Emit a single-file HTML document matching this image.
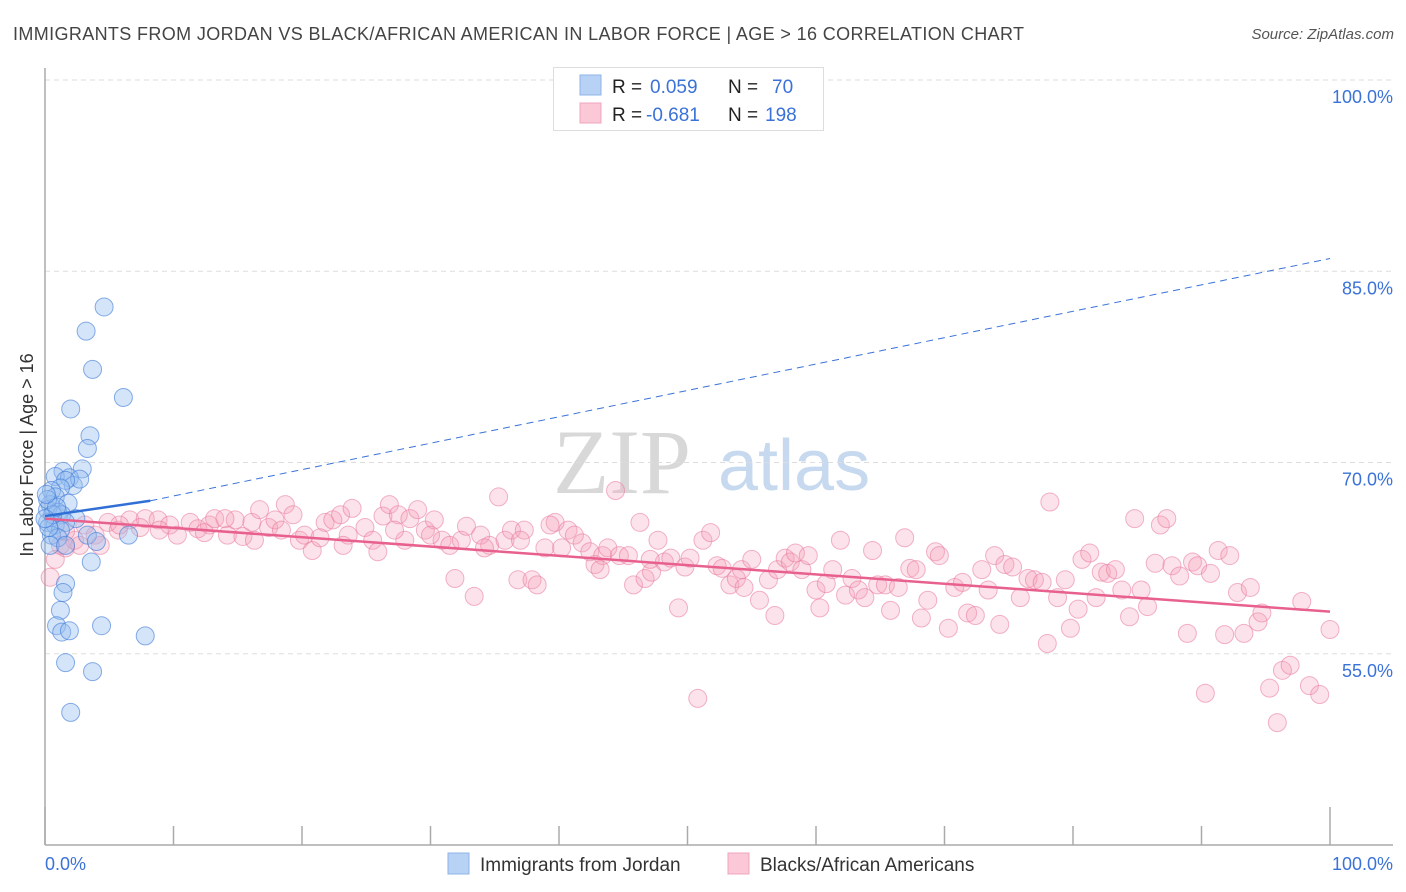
<!DOCTYPE html>
<html><head><meta charset="utf-8">
<style>
body{margin:0;background:#fff;font-family:"Liberation Sans",sans-serif;}
svg{display:block}
</style></head>
<body>
<svg id="chart" width="1406" height="892" xmlns="http://www.w3.org/2000/svg">
<text x="13" y="40" font-size="18" fill="#444" textLength="1011" lengthAdjust="spacing">IMMIGRANTS FROM JORDAN VS BLACK/AFRICAN AMERICAN IN LABOR FORCE | AGE &gt; 16 CORRELATION CHART</text>
<text x="1394" y="39" font-size="15" fill="#555" font-style="italic" text-anchor="end">Source: ZipAtlas.com</text>
<g>
<text x="553" y="493" font-family="Liberation Serif,serif" font-size="92" fill="#d8d8d8">ZIP</text>
<text x="718" y="490" font-size="72" fill="#c7d9ef">atlas</text>
</g>
<g id="grid"></g>
<g id="axes"></g>
<g id="pts"></g>
<g id="trends"></g>
<text transform="translate(33,455) rotate(-90)" font-size="18" fill="#333" text-anchor="middle">In Labor Force | Age &gt; 16</text>
<g>
<rect x="553.5" y="67.5" width="270" height="63" fill="#fff" stroke="#ddd"/>
<rect x="580" y="75" width="21" height="20" fill="#b7d2f5" stroke="#8fb4e8"/>
<rect x="580" y="103" width="21" height="20" fill="#fac8d7" stroke="#f0a5bd"/>
<text x="612" y="93" font-size="19" fill="#222">R = <tspan x="650" fill="#3a72d8">0.059</tspan><tspan x="728" fill="#222">N = </tspan><tspan x="772" fill="#3a72d8">70</tspan></text>
<text x="612" y="121" font-size="19" fill="#222">R = <tspan x="646" fill="#3a72d8">-0.681</tspan><tspan x="728" fill="#222">N = </tspan><tspan x="765" fill="#3a72d8">198</tspan></text>
</g>
<g>
<rect x="448" y="853" width="21" height="21" fill="#b7d2f5" stroke="#8fb4e8"/>
<text x="480" y="871" font-size="19" fill="#333">Immigrants from Jordan</text>
<rect x="728" y="853" width="21" height="21" fill="#fac8d7" stroke="#f0a5bd"/>
<text x="760" y="871" font-size="19" fill="#333">Blacks/African Americans</text>
</g>
</svg>
<script>
const yTicks=[100,85,70,55];
const yTickLabels=["100.0%","85.0%","70.0%","55.0%"];
const xTickLabels=["0.0%","100.0%"];
const blueX=[4.6,3.2,3.7,6.1,2.0,3.5,3.3,2.9,1.4,0.8,1.9,2.2,2.7,1.6,1.2,0.5,0.8,1.8,0.4,0.2,1.0,1.3,2.4,0.2,0.8,1.6,1.2,0.5,3.3,4.0,6.5,1.0,0.4,1.6,3.6,1.6,1.4,1.2,0.9,1.3,1.9,4.4,7.8,1.6,3.7,2.0,0.2,0.6,0.9,0.3,0.0,0.1];
const blueY=[82.2,80.3,77.3,75.1,74.2,72.1,71.1,69.5,69.3,68.9,68.8,68.2,68.7,68.6,68.0,67.8,67.3,66.8,66.7,66.3,66.1,65.9,65.6,65.3,65.1,65.3,64.7,64.3,64.3,63.8,64.3,64.1,63.5,63.5,62.2,60.5,59.8,58.4,57.2,56.7,56.8,57.2,56.4,54.3,53.6,50.4,67.1,65.9,66.5,64.9,65.6,67.5];
const pinkX=[0.4,0.8,1.2,1.6,2.3,3.1,3.9,4.9,5.7,6.6,7.8,8.8,9.7,10.3,11.3,11.9,12.8,13.2,14.2,14.8,15.4,16.1,16.7,17.4,17.9,18.7,19.3,19.8,20.2,20.8,21.8,22.4,23.0,23.6,23.9,24.9,25.5,25.9,26.3,26.8,27.5,28.0,28.4,29.0,29.6,30.3,30.9,31.5,31.9,32.4,32.8,33.4,33.9,34.6,35.3,35.8,36.3,36.8,37.3,37.9,38.3,38.9,39.7,40.2,40.7,41.2,41.8,42.4,42.8,43.4,43.8,44.4,44.7,45.4,45.8,46.3,46.7,47.2,47.7,48.2,48.7,49.3,49.8,50.2,50.8,51.2,51.8,52.3,52.7,53.3,53.8,54.2,54.4,55.0,55.6,56.3,56.8,57.0,57.6,58.0,58.4,58.9,59.4,60.0,60.3,60.8,61.3,61.9,62.3,62.8,63.3,63.8,64.4,64.8,65.4,65.8,66.4,66.9,67.3,67.8,68.2,68.7,69.3,69.6,70.3,70.8,71.4,71.8,72.4,72.9,73.4,73.9,74.3,74.7,75.3,75.9,76.5,77.0,77.6,78.0,78.2,78.8,79.4,79.8,80.4,80.7,81.3,81.8,82.2,82.7,83.3,83.8,84.4,84.8,85.3,85.8,86.4,86.8,87.3,87.7,88.3,88.9,89.3,89.7,90.3,90.7,91.3,91.8,92.2,92.8,93.3,93.8,94.4,94.7,95.3,95.9,96.3,96.9,97.8,98.4,99.2,100,1.6,2.7,4.3,5.8,7.4,8.9,12.4,14.0,16.3,18.4,21.4,23.2,27.2,30.0,34.2,37.0,39.3,43.2,47.1];
const pinkY=[61.0,62.4,63.5,63.3,63.9,65.1,64.3,65.3,64.7,65.5,65.6,65.5,65.1,64.3,65.3,64.8,65.1,65.6,64.3,65.5,64.2,65.3,66.3,64.9,65.5,66.7,65.9,63.9,64.3,63.1,65.3,65.5,65.9,64.3,66.4,64.9,63.9,63.0,65.8,66.7,65.9,63.9,65.6,66.3,64.7,65.5,63.9,63.5,60.9,63.9,65.0,59.5,64.3,63.5,67.3,63.9,64.7,60.8,64.7,60.8,60.4,63.3,65.3,63.3,64.7,64.3,63.7,63.0,62.0,62.7,63.3,67.8,62.7,62.7,60.4,65.3,60.9,61.4,63.9,62.2,62.5,58.6,61.8,62.5,51.5,63.9,64.5,61.9,61.7,60.4,60.9,61.6,60.2,62.4,59.2,60.8,58.0,61.6,62.5,62.2,62.9,61.6,62.7,60.0,58.6,60.5,61.6,63.9,59.6,60.9,60.0,59.4,63.1,60.4,60.4,58.4,60.2,64.1,61.7,61.6,57.8,59.2,63.0,62.7,57.0,60.2,60.6,58.2,58.0,61.6,60.0,62.7,57.3,62.0,61.8,59.4,60.9,60.8,60.6,55.8,66.9,59.4,60.8,57.0,58.5,62.4,62.9,59.4,61.4,61.3,61.6,60.0,57.9,65.6,60.0,58.7,62.1,65.1,65.6,61.9,61.1,56.6,62.2,61.9,51.9,61.3,63.1,56.5,62.7,59.8,56.6,60.2,57.5,58.2,52.3,49.6,53.7,54.1,59.1,52.5,51.8,56.9,64.6,63.5,63.5,65.1,64.9,64.7,64.5,65.6,63.9,64.7,64.1,63.5,64.7,64.3,63.3,63.9,65.1,61.6,62.4];
// trend lines
const blueTrendX=[0,8.2,100];
const blueTrendY=[65.8,67.0,86.0];
const pinkTrendX=[0,100];
const pinkTrendY=[65.6,58.3];

const NS="http://www.w3.org/2000/svg";
const X0=45,X1=1330,YTOP=80,PXPER=12.75;
function sx(v){return X0+(X1-X0)*v/100;}
function sy(v){return YTOP+(100-v)*PXPER;}
function mk(tag,attrs,parent){const e=document.createElementNS(NS,tag);for(const k in attrs)e.setAttribute(k,attrs[k]);parent.appendChild(e);return e;}

const grid=document.getElementById('grid');
yTicks.forEach((t,i)=>{
  const l=mk('line',{x1:X0,x2:1393,y1:sy(t),y2:sy(t),stroke:'#ddd','stroke-dasharray':'5,4'},grid);
  
  
  const tx=mk('text',{x:1393,y:sy(t)+23,'font-size':18,fill:'#3a72d8','text-anchor':'end'},grid);
  tx.textContent=yTickLabels[i];
  
  
});
const axes=document.getElementById('axes');
let a=mk('line',{x1:X0,x2:X0,y1:68,y2:845,stroke:'#aaa','stroke-width':1.5},axes);


a=mk('line',{x1:X0,x2:1393,y1:845,y2:845,stroke:'#aaa','stroke-width':1.5},axes);


for(let i=0;i<=10;i++){
  const x=sx(i*10);
  const t=mk('line',{x1:x,x2:x,y1:(i==0||i==10)?807:826,y2:845,stroke:'#aaa','stroke-width':1.5},axes);
  
  
}
[[0,'start',45],[1,'end',1393]].forEach(([i,anc,x])=>{
  const t=mk('text',{x:x,y:870,'font-size':18,fill:'#3a72d8','text-anchor':anc},axes);
  t.textContent=xTickLabels[i];
  
  
});
const pts=document.getElementById('pts');
pinkX.forEach((v,i)=>{
  const c=mk('circle',{cx:sx(v),cy:sy(pinkY[i]),r:9,fill:'rgba(245,160,185,0.3)',stroke:'rgba(232,120,155,0.55)','stroke-width':1},pts);
  
  
});
blueX.forEach((v,i)=>{
  const c=mk('circle',{cx:sx(v),cy:sy(blueY[i]),r:9,fill:'rgba(150,190,240,0.4)',stroke:'rgba(60,120,215,0.6)','stroke-width':1},pts);
  
  
});
const tr=document.getElementById('trends');
let l=mk('line',{x1:sx(blueTrendX[1]),y1:sy(blueTrendY[1]),x2:sx(blueTrendX[2]),y2:sy(blueTrendY[2]),stroke:'#3a72d8','stroke-width':1,'stroke-dasharray':'7,5'},tr);


l=mk('line',{x1:sx(blueTrendX[0]),y1:sy(blueTrendY[0]),x2:sx(blueTrendX[1]),y2:sy(blueTrendY[1]),stroke:'#2f6fd6','stroke-width':2.5},tr);


l=mk('line',{x1:sx(pinkTrendX[0]),y1:sy(pinkTrendY[0]),x2:sx(pinkTrendX[1]),y2:sy(pinkTrendY[1]),stroke:'#e8608e','stroke-width':2.5},tr);


</script>
</body></html>
